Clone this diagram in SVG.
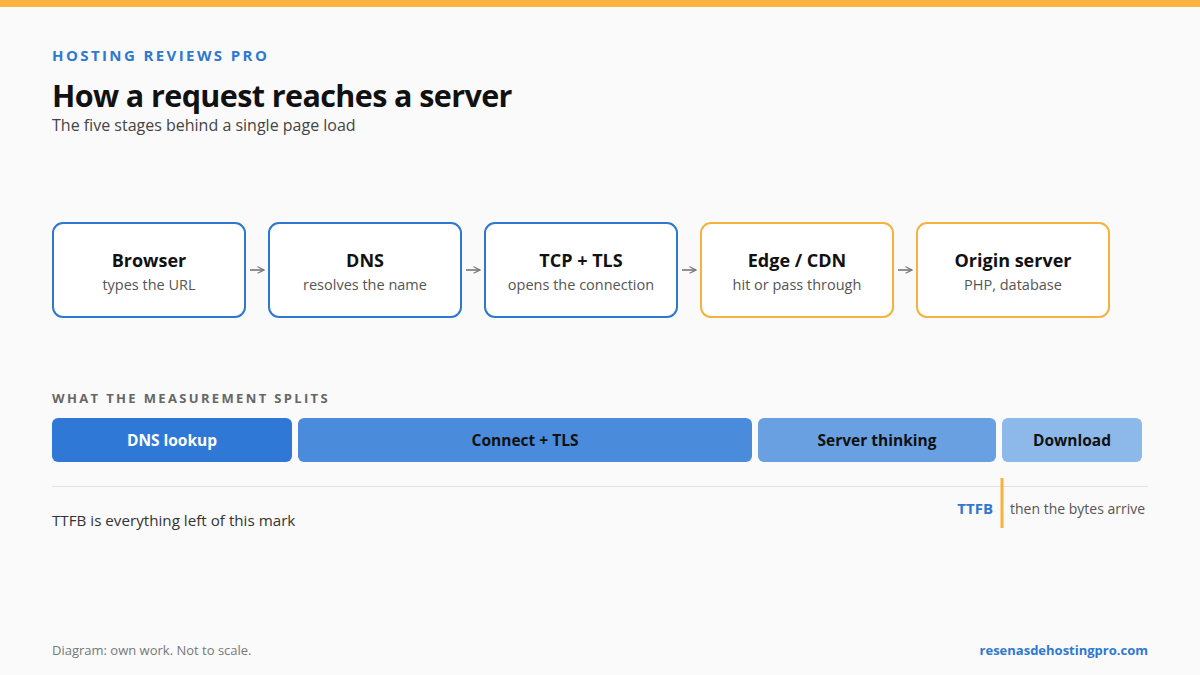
<svg xmlns="http://www.w3.org/2000/svg" width="1200" height="675" viewBox="0 0 1200 675">
<defs>
<style>
text{font-family:"Open Sans","Noto Sans","Liberation Sans",sans-serif}
.node rect{fill:#fff;stroke-width:2}
.blue rect{stroke:#2F78CF}
.orange rect{stroke:#F6B23E}
.nt{font-size:18px;font-weight:700;fill:#111;text-anchor:middle}
.ns{font-size:14.5px;fill:#555;text-anchor:middle}
.bar{font-size:15.5px;font-weight:700;text-anchor:middle}
.conn path{fill:none;stroke:#777;stroke-width:1.6}
</style>
<marker id="ah" viewBox="0 0 10 10" refX="9" refY="5" markerWidth="8" markerHeight="8" orient="auto" markerUnits="userSpaceOnUse">
<path d="M1,1 L9,5 L1,9" fill="none" stroke="#777" stroke-width="1.6"/>
</marker>
</defs>
<rect width="1200" height="675" fill="#FAFAFA"/>
<rect width="1200" height="7" fill="#FFB23F"/>
<text x="52" y="61" font-size="15" font-weight="700" fill="#2F78CF" letter-spacing="2.4">HOSTING REVIEWS PRO</text>
<text x="52" y="107" font-size="30.5" font-weight="700" fill="#111" letter-spacing="-0.6">How a request reaches a server</text>
<text x="52" y="131" font-size="16" fill="#444">The five stages behind a single page load</text>

<g id="browser" class="node blue"><rect x="53" y="223" width="192" height="94" rx="10"/><text class="nt" x="149" y="267">Browser</text><text class="ns" x="149" y="290">types the URL</text></g>
<g id="dns" class="node blue"><rect x="269" y="223" width="192" height="94" rx="10"/><text class="nt" x="365" y="267">DNS</text><text class="ns" x="365" y="290">resolves the name</text></g>
<g id="tcp" class="node blue"><rect x="485" y="223" width="192" height="94" rx="10"/><text class="nt" x="581" y="267">TCP + TLS</text><text class="ns" x="581" y="290">opens the connection</text></g>
<g id="edge" class="node orange"><rect x="701" y="223" width="192" height="94" rx="10"/><text class="nt" x="797" y="267">Edge / CDN</text><text class="ns" x="797" y="290">hit or pass through</text></g>
<g id="origin" class="node orange"><rect x="917" y="223" width="192" height="94" rx="10"/><text class="nt" x="1013" y="267">Origin server</text><text class="ns" x="1013" y="290">PHP, database</text></g>

<g id="connectors" class="conn">
<path d="M250,270 H264" marker-end="url(#ah)"/>
<path d="M466,270 H480" marker-end="url(#ah)"/>
<path d="M682,270 H696" marker-end="url(#ah)"/>
<path d="M898,270 H912" marker-end="url(#ah)"/>
</g>

<text x="52" y="403" font-size="13" font-weight="700" fill="#666" letter-spacing="2.35">WHAT THE MEASUREMENT SPLITS</text>
<g id="bars">
<rect x="52" y="418" width="240" height="44" rx="6" fill="#2F78D6"/><text class="bar" x="172" y="446" fill="#fff">DNS lookup</text>
<rect x="298" y="418" width="454" height="44" rx="6" fill="#4A8CDB"/><text class="bar" x="525" y="446" fill="#111">Connect + TLS</text>
<rect x="758" y="418" width="238" height="44" rx="6" fill="#68A0E2"/><text class="bar" x="877" y="446" fill="#111">Server thinking</text>
<rect x="1002" y="418" width="140" height="44" rx="6" fill="#8DB8EA"/><text class="bar" x="1072" y="446" fill="#111">Download</text>
</g>
<line x1="52" y1="486.5" x2="1148" y2="486.5" stroke="#E2E2E2" stroke-width="1"/>
<text x="52" y="526" font-size="15.2" fill="#333">TTFB is everything left of this mark</text>
<line x1="1002" y1="478" x2="1002" y2="528" stroke="#F6B23E" stroke-width="3"/>
<text x="993" y="514" font-size="15" font-weight="700" fill="#2F78CF" text-anchor="end">TTFB</text>
<text x="1010" y="514" font-size="14" fill="#555">then the bytes arrive</text>

<text x="52" y="655" font-size="13" fill="#777">Diagram: own work. Not to scale.</text>
<text x="1148" y="655" font-size="13" font-weight="700" fill="#2F78CF" text-anchor="end">resenasdehostingpro.com</text>
</svg>
